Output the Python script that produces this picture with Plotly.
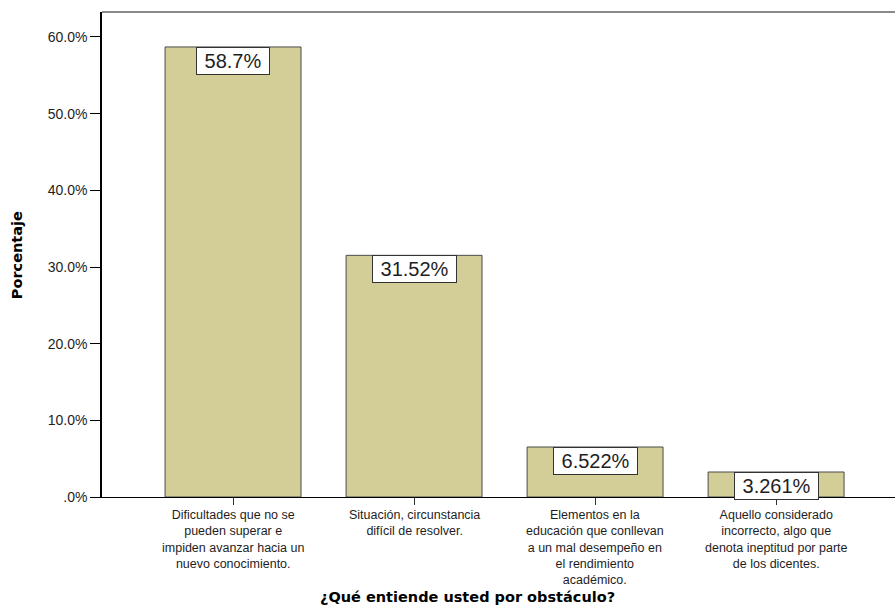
import plotly.graph_objects as go

# Survey answers to "¿Qué entiende usted por obstáculo?"
categorias = [
    ["Dificultades que no se", "pueden superar e", "impiden avanzar hacia un", "nuevo conocimiento."],
    ["Situación, circunstancia", "difícil de resolver."],
    ["Elementos en la", "educación que conllevan", "a un mal desempeño en", "el rendimiento", "académico."],
    ["Aquello considerado", "incorrecto, algo que", "denota ineptitud por parte", "de los dicentes."],
]
porcentajes = [58.70, 31.52, 6.522, 3.261]
marcas_y = [0, 10, 20, 30, 40, 50, 60]

FILL = "rgb(211,206,152)"
EDGE = "#4a4a4a"
TXT = "#1e1e1e"

posiciones = list(range(len(porcentajes)))


def etiqueta_eje(v):
    s = f"{v:.1f}%"
    return s[1:] if s.startswith("0.") else s


fig = go.Figure()
fig.add_trace(go.Bar(
    x=posiciones,
    y=porcentajes,
    width=0.751,
    marker=dict(color=FILL, line=dict(color=EDGE, width=1)),
    hoverinfo="skip",
))

anotaciones = []
# value boxes hanging from the top of every bar
for xi, v in zip(posiciones, porcentajes):
    anotaciones.append(dict(
        x=xi, y=v, xref="x", yref="y",
        text="\u00a0" + f"{v:.4g}%" + "\u00a0",
        showarrow=False, yanchor="top", xanchor="center",
        font=dict(family="Arial", size=20, color=TXT),
        bgcolor="white", bordercolor="#333333", borderwidth=1, borderpad=2,
    ))

# wrapped category labels under each tick
for xi, lineas in zip(posiciones, categorias):
    anotaciones.append(dict(
        x=xi, y=0, xref="x", yref="y",
        text="<br>".join(lineas), showarrow=False, align="center",
        xanchor="center", yanchor="top", yshift=-9,
        font=dict(family="Arial", size=12.5, color=TXT),
    ))

# axis titles
anotaciones.append(dict(
    x=0.4615, y=-0.207, xref="paper", yref="paper",
    text="<b>¿Qué entiende usted por obstáculo?</b>", showarrow=False,
    xanchor="center", yanchor="middle",
    font=dict(family="DejaVu Sans", size=14.5, color="black"),
))
anotaciones.append(dict(
    x=-0.107, y=0.499, xref="paper", yref="paper",
    text="<b>Porcentaje</b>", showarrow=False, textangle=-90,
    xanchor="center", yanchor="middle",
    font=dict(family="DejaVu Sans", size=14.5, color="black"),
))

fig.update_layout(
    width=895, height=605,
    margin=dict(l=102, r=0, t=12, b=108, pad=0),
    paper_bgcolor="white", plot_bgcolor="white",
    showlegend=False,
    annotations=anotaciones,
    shapes=[dict(type="line", xref="paper", yref="paper", x0=0, x1=1, y0=1, y1=1,
                 line=dict(color="#8a8a8a", width=2))],
    xaxis=dict(
        range=[-0.724, 3.657], showgrid=False, zeroline=False,
        tickvals=posiciones, ticktext=["" for _ in posiciones],
        ticks="outside", ticklen=7, tickcolor="#333333", tickwidth=1,
        showline=True, linecolor="black", linewidth=1,
    ),
    yaxis=dict(
        range=[0, 63.26], showgrid=False, zeroline=False,
        tickvals=marcas_y, ticktext=[etiqueta_eje(v) for v in marcas_y],
        ticks="outside", ticklen=10, tickcolor="black", tickwidth=1,
        showline=True, linecolor="black", linewidth=1.5,
        tickfont=dict(family="Arial", size=14, color=TXT),
    ),
)

fig.write_html("out.html")
